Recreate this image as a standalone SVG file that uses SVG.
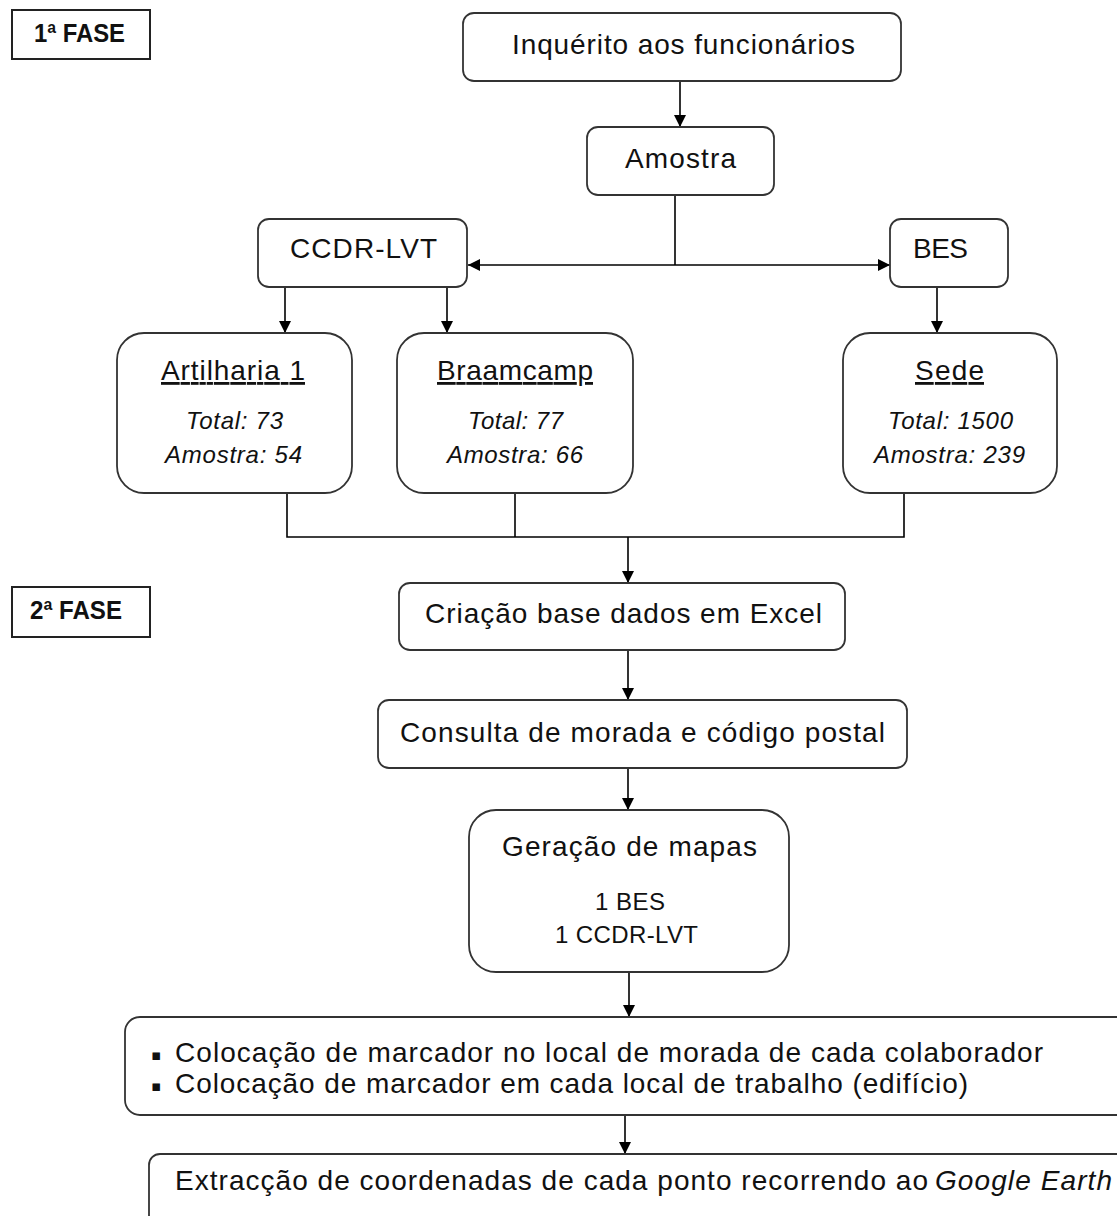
<svg xmlns="http://www.w3.org/2000/svg" width="1117" height="1216" viewBox="0 0 1117 1216">
<style>
.box{fill:#fff;stroke:#333;stroke-width:1.8}
.phase{fill:#fff;stroke:#222;stroke-width:2}
.t{font-family:"Liberation Sans",Arial,sans-serif;font-size:28px;fill:#111}
.i{font-family:"Liberation Sans",Arial,sans-serif;font-size:24px;font-style:italic;fill:#111}
.s{font-family:"Liberation Sans",Arial,sans-serif;font-size:24px;fill:#111}
.b{font-family:"Liberation Sans",Arial,sans-serif;font-size:25px;font-weight:bold;fill:#111}
.bul{font-family:"DejaVu Sans",sans-serif;font-size:15px;fill:#111}
.c{fill:none;stroke:#000;stroke-width:1.6}
</style>
<defs>
<marker id="ah" markerUnits="userSpaceOnUse" markerWidth="12" markerHeight="12" refX="12" refY="6" orient="auto">
<path d="M0,0 L12,6 L0,12 z" fill="#000"/>
</marker>
</defs>
<g id="connectors">
<line class="c" x1="680" y1="81" x2="680" y2="127" marker-end="url(#ah)"/>
<line class="c" x1="675" y1="195" x2="675" y2="265"/>
<line class="c" x1="675" y1="265" x2="468" y2="265" marker-end="url(#ah)"/>
<line class="c" x1="675" y1="265" x2="890" y2="265" marker-end="url(#ah)"/>
<line class="c" x1="285" y1="287" x2="285" y2="333" marker-end="url(#ah)"/>
<line class="c" x1="447" y1="287" x2="447" y2="333" marker-end="url(#ah)"/>
<line class="c" x1="937" y1="287" x2="937" y2="333" marker-end="url(#ah)"/>
<polyline class="c" points="287,493 287,537 904,537 904,493"/>
<line class="c" x1="515" y1="493" x2="515" y2="537"/>
<line class="c" x1="628" y1="537" x2="628" y2="583" marker-end="url(#ah)"/>
<line class="c" x1="628" y1="650" x2="628" y2="700" marker-end="url(#ah)"/>
<line class="c" x1="628" y1="768" x2="628" y2="810" marker-end="url(#ah)"/>
<line class="c" x1="629" y1="972" x2="629" y2="1017" marker-end="url(#ah)"/>
<line class="c" x1="625" y1="1115" x2="625" y2="1154" marker-end="url(#ah)"/>
</g>
<g id="fase1">
<rect class="phase" x="12" y="10" width="138" height="49"/>
<text class="b" x="34" y="42" textLength="91" lengthAdjust="spacingAndGlyphs">1ª FASE</text>
</g>
<g id="fase2">
<rect class="phase" x="12" y="587" width="138" height="50"/>
<text class="b" x="30" y="619" textLength="92" lengthAdjust="spacingAndGlyphs">2ª FASE</text>
</g>
<g id="inquerito">
<rect class="box" x="463" y="13" width="438" height="68" rx="11"/>
<text class="t" x="512" y="54" textLength="343" lengthAdjust="spacing">Inquérito aos funcionários</text>
</g>
<g id="amostra">
<rect class="box" x="587" y="127" width="187" height="68" rx="11"/>
<text class="t" x="625" y="168" textLength="111" lengthAdjust="spacing">Amostra</text>
</g>
<g id="ccdr">
<rect class="box" x="258" y="219" width="209" height="68" rx="11"/>
<text class="t" x="290" y="258" textLength="147" lengthAdjust="spacing">CCDR-LVT</text>
</g>
<g id="bes">
<rect class="box" x="890" y="219" width="118" height="68" rx="11"/>
<text class="t" x="913" y="258" textLength="55" lengthAdjust="spacing">BES</text>
</g>
<g id="artilharia">
<rect class="box" x="117" y="333" width="235" height="160" rx="27"/>
<text class="t" x="161" y="380" textLength="144" lengthAdjust="spacing" text-decoration="underline">Artilharia 1</text>
<text class="i" x="186" y="429" textLength="97" lengthAdjust="spacing">Total: 73</text>
<text class="i" x="165" y="463" textLength="137" lengthAdjust="spacing">Amostra: 54</text>
</g>
<g id="braamcamp">
<rect class="box" x="397" y="333" width="236" height="160" rx="27"/>
<text class="t" x="437" y="380" textLength="156" lengthAdjust="spacing" text-decoration="underline">Braamcamp</text>
<text class="i" x="468" y="429" textLength="95" lengthAdjust="spacing">Total: 77</text>
<text class="i" x="447" y="463" textLength="136" lengthAdjust="spacing">Amostra: 66</text>
</g>
<g id="sede">
<rect class="box" x="843" y="333" width="214" height="160" rx="27"/>
<text class="t" x="915" y="380" textLength="69" lengthAdjust="spacing" text-decoration="underline">Sede</text>
<text class="i" x="888" y="429" textLength="125" lengthAdjust="spacing">Total: 1500</text>
<text class="i" x="874" y="463" textLength="151" lengthAdjust="spacing">Amostra: 239</text>
</g>
<g id="criacao">
<rect class="box" x="399" y="583" width="446" height="67" rx="11"/>
<text class="t" x="425" y="623" textLength="397" lengthAdjust="spacing">Criação base dados em Excel</text>
</g>
<g id="consulta">
<rect class="box" x="378" y="700" width="529" height="68" rx="11"/>
<text class="t" x="400" y="742" textLength="485" lengthAdjust="spacing">Consulta de morada e código postal</text>
</g>
<g id="geracao">
<rect class="box" x="469" y="810" width="320" height="162" rx="27"/>
<text class="t" x="502" y="856" textLength="255" lengthAdjust="spacing">Geração de mapas</text>
<text class="s" x="595" y="910" textLength="70" lengthAdjust="spacing">1 BES</text>
<text class="s" x="555" y="943" textLength="143" lengthAdjust="spacing">1 CCDR-LVT</text>
</g>
<g id="colocacao">
<rect class="box" x="125" y="1017" width="1010" height="98" rx="15"/>
<text class="bul" x="151" y="1060">▪</text>
<text class="t" x="175" y="1062" textLength="868" lengthAdjust="spacing">Colocação de marcador no local de morada de cada colaborador</text>
<text class="bul" x="151" y="1091">▪</text>
<text class="t" x="175" y="1093" textLength="793" lengthAdjust="spacing">Colocação de marcador em cada local de trabalho (edifício)</text>
</g>
<g id="extraccao">
<rect class="box" x="149" y="1154" width="1000" height="90" rx="11"/>
<text class="t" x="175" y="1190" textLength="753" lengthAdjust="spacing">Extracção de coordenadas de cada ponto recorrendo ao</text>
<text class="t" x="935" y="1190" textLength="177" lengthAdjust="spacing" font-style="italic">Google Earth</text>
</g>
</svg>
